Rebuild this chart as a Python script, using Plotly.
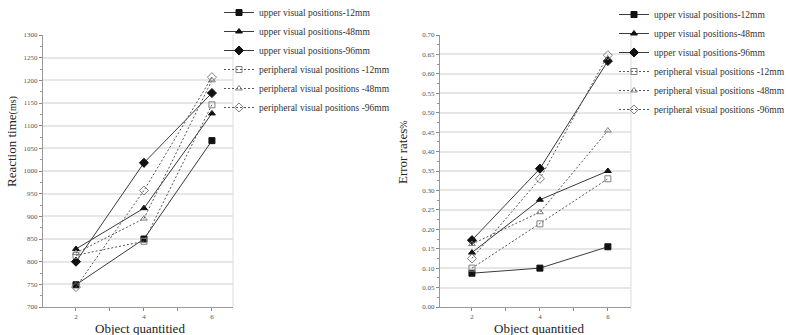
import plotly.graph_objects as go

x_vals = [2, 4, 6]
series_names = [
    "upper visual positions-12mm",
    "upper visual positions-48mm",
    "upper visual positions-96mm",
    "peripheral visual positions -12mm",
    "peripheral visual positions -48mm",
    "peripheral visual positions -96mm",
]
rt_upper_12 = [749, 850, 1067]
rt_upper_48 = [828, 918, 1127]
rt_upper_96 = [800, 1018, 1172]
rt_periph_12 = [814, 845, 1146]
rt_periph_48 = [819, 895, 1200]
rt_periph_96 = [744, 957, 1207]

er_upper_12 = [0.087, 0.100, 0.155]
er_upper_48 = [0.140, 0.276, 0.350]
er_upper_96 = [0.172, 0.356, 0.633]
er_periph_12 = [0.100, 0.214, 0.330]
er_periph_48 = [0.162, 0.244, 0.454]
er_periph_96 = [0.125, 0.330, 0.648]

rt_series = [rt_upper_12, rt_upper_48, rt_upper_96, rt_periph_12, rt_periph_48, rt_periph_96]
er_series = [er_upper_12, er_upper_48, er_upper_96, er_periph_12, er_periph_48, er_periph_96]

symbols = ["square", "triangle-up", "diamond", "square-open", "triangle-up-open", "diamond-open"]
sizes = [6, 6, 7, 6, 6, 7]

fig = go.Figure()

def add_series(data, xa, ya, legend):
    for i, (name, vals) in enumerate(zip(series_names, data)):
        upper = i < 3
        fig.add_trace(go.Scatter(
            x=x_vals, y=vals, name=name, mode="lines+markers",
            xaxis=xa, yaxis=ya, legend=legend,
            line=dict(color="#3a3a3a" if upper else "#555555", width=1,
                      dash="solid" if upper else "2px,2px"),
            marker=dict(symbol=symbols[i], size=sizes[i],
                        color="#111111" if upper else "#808080",
                        line=dict(width=1, color="#111111" if upper else "#808080")),
        ))

add_series(rt_series, "x", "y", "legend")
add_series(er_series, "x2", "y2", "legend2")

W, H = 786, 335
def px(v):
    return v / W
def py(v):
    return 1 - v / H

tickfont = dict(family="Liberation Serif", size=7, color="#555555")
xcommon = dict(tickvals=[2, 3, 4, 5, 6], ticktext=["2", "", "4", "", "6"],
               ticks="outside", ticklen=3, tickcolor="#888888",
               showline=True, linecolor="#999999", linewidth=1,
               showgrid=False, zeroline=False, tickfont=tickfont, mirror=False)
ycommon = dict(ticks="outside", ticklen=3, tickcolor="#888888",
               showline=True, linecolor="#999999", linewidth=1,
               showgrid=True, gridcolor="#e6e6e6", gridwidth=1.5,
               zeroline=False, tickfont=tickfont)

legend_font = dict(family="Liberation Serif", size=9.5, color="#333333")

fig.update_layout(
    width=W, height=H,
    margin=dict(l=0, r=0, t=0, b=0, autoexpand=False),
    paper_bgcolor="white", plot_bgcolor="white",
    xaxis=dict(domain=[px(43), px(233)], range=[1.03, 6.62], anchor="y", **xcommon),
    yaxis=dict(domain=[py(307), py(35)], range=[700, 1300], dtick=50, anchor="x",
               minor=dict(dtick=25, ticks="outside", ticklen=2, tickcolor="#999999", showgrid=False),
               **ycommon),
    xaxis2=dict(domain=[px(440), px(631)], range=[1.06, 6.68], anchor="y2", **xcommon),
    yaxis2=dict(domain=[py(307), py(35)], range=[0, 0.70], dtick=0.05, tickformat=".2f", anchor="x2",
                minor=dict(dtick=0.025, ticks="outside", ticklen=2, tickcolor="#999999", showgrid=False),
                **ycommon),
    legend=dict(x=px(219), y=py(-2), xanchor="left", yanchor="top",
                font=legend_font, itemwidth=30, bgcolor="rgba(0,0,0,0)", tracegroupgap=0),
    legend2=dict(x=px(614), y=py(0), xanchor="left", yanchor="top",
                 font=legend_font, itemwidth=30, bgcolor="rgba(0,0,0,0)", tracegroupgap=0),
    showlegend=True,
)

fig.add_shape(type="line", xref="paper", yref="paper", x0=px(233), x1=px(233), y0=py(307), y1=py(35),
              line=dict(color="#dddddd", width=1))
fig.add_shape(type="line", xref="paper", yref="paper", x0=px(631), x1=px(631), y0=py(307), y1=py(35),
              line=dict(color="#dddddd", width=1))

title_font = dict(family="Liberation Serif", size=13, color="#222222")
fig.add_annotation(text="Reaction time<span style='font-size:10px'>(ms)</span>", xref="paper", yref="paper",
                   x=px(12), y=py(142), textangle=-90, showarrow=False, font=title_font,
                   xanchor="center", yanchor="middle")
fig.add_annotation(text="Error rates<span style='font-size:10px'>%</span>", xref="paper", yref="paper",
                   x=px(402), y=py(152), textangle=-90, showarrow=False, font=title_font,
                   xanchor="center", yanchor="middle")
fig.add_annotation(text="Object quantitied", xref="paper", yref="paper",
                   x=px(140), y=py(328), showarrow=False, font=title_font,
                   xanchor="center", yanchor="middle")
fig.add_annotation(text="Object quantitied", xref="paper", yref="paper",
                   x=px(539), y=py(328), showarrow=False, font=title_font,
                   xanchor="center", yanchor="middle")

fig.write_html("out.html", config={"displayModeBar": False},
               post_script="document.body.style.margin='0';document.body.style.padding='0';document.body.style.overflow='hidden';")
